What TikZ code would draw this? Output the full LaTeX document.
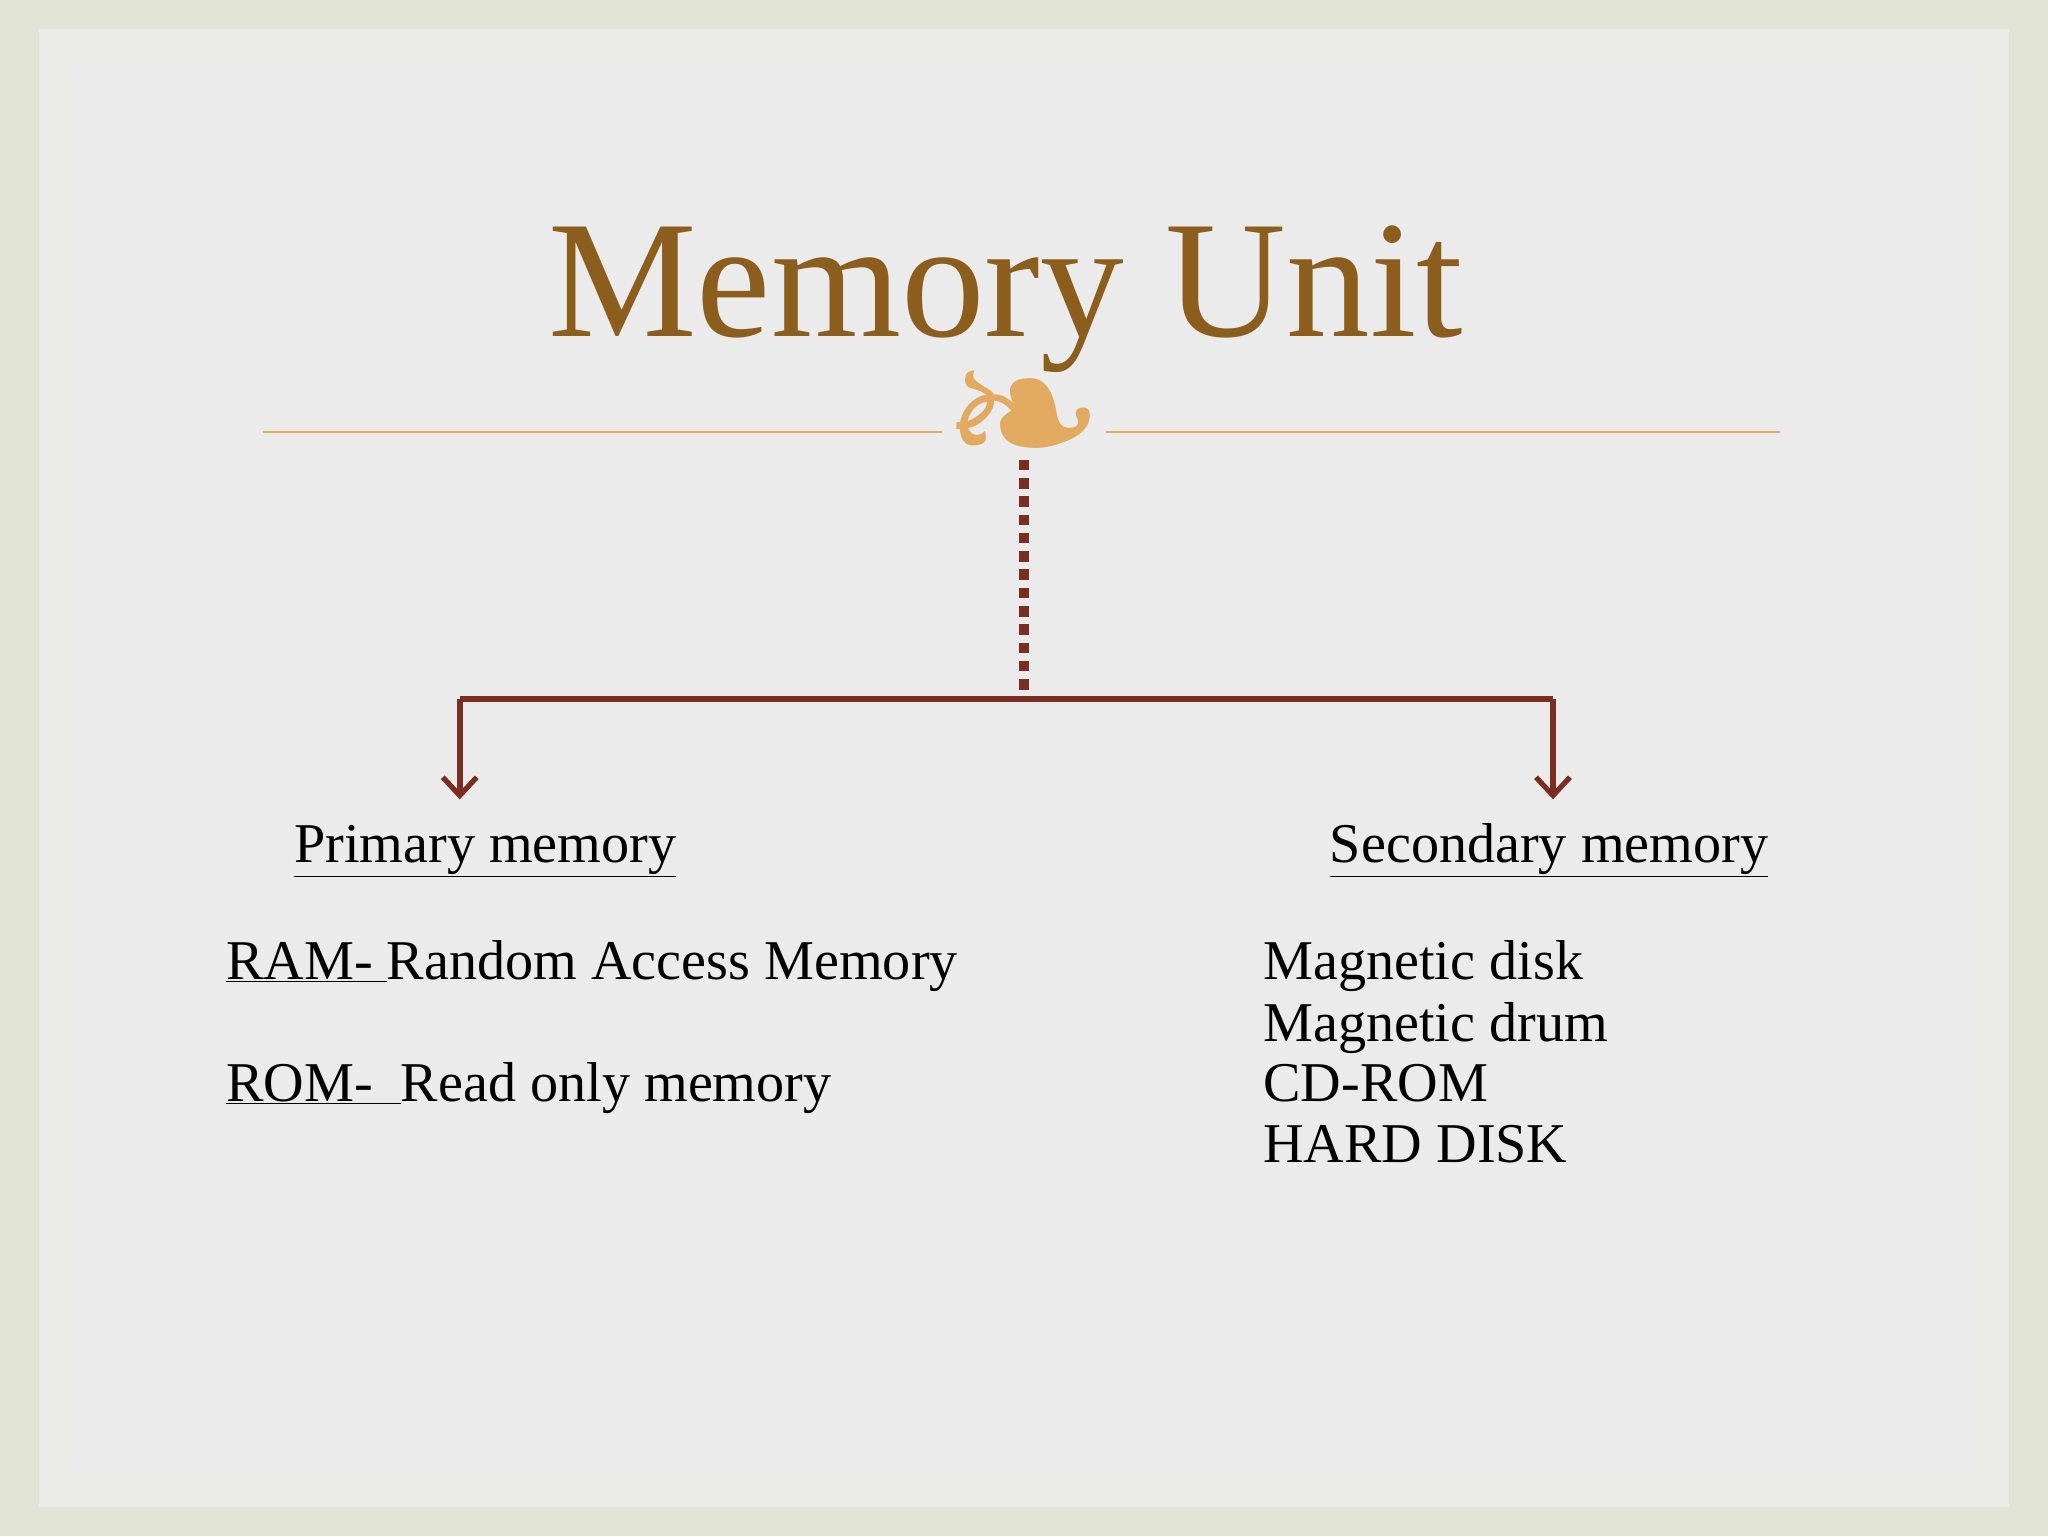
\documentclass[tikz,border=0pt]{standalone}
\usepackage{fontspec}
\setmainfont{Liberation Serif}
\newfontfamily\orn{DejaVu Sans}
\usetikzlibrary{arrows.meta}
\definecolor{bgout}{RGB}{226,228,214}
\definecolor{bgin}{RGB}{235,235,235}
\definecolor{titlec}{RGB}{139,94,30}
\definecolor{linec}{RGB}{226,170,96}
\definecolor{conn}{RGB}{122,46,34}
\tikzset{
  body/.style={anchor=base west,inner sep=0pt,font=\fontsize{43}{52}\selectfont,text=black},
  connline/.style={draw=conn,line width=4.5pt},
}
\begin{document}
\begin{tikzpicture}[x=1pt,y=-1pt]
\useasboundingbox (0,0) rectangle (1568,1176);
\fill[bgout] (0,0) rectangle (1568,1176);
\fill[bgin!97!bgout] (30,22) rectangle (1538,1154);
\fill[bgin] (55,45) rectangle (1513,1131);
\node[inner sep=0pt,anchor=base,font=\fontsize{128}{140}\selectfont,text=titlec] (title) at (770,258) {Memory Unit};
\node[inner sep=0pt,font=\orn\fontsize{150}{150}\selectfont,text=linec] (orn) at (784,326) {❧};
\coordinate (l1) at (201,331);
\coordinate (l2) at (1363,331);
\draw[linec,line width=1.5pt] (l1) -- (orn.west |- l1);
\draw[linec,line width=1.5pt] (orn.east |- l2) -- (l2);
\coordinate (top) at (784,352);
\coordinate (mid) at (784,535);
\coordinate (lc) at (352,535);
\coordinate (rc) at (1189,535);
\coordinate (la) at (352,612);
\coordinate (ra) at (1189,612);
\draw[connline,dash pattern=on 8pt off 6pt,line width=7pt] (top) -- (mid);
\draw[connline] (lc) -- (rc);
\draw[connline,-{Straight Barb[length=14pt,width=26pt,line width=4pt]}] (lc) -- (la);
\draw[connline,-{Straight Barb[length=14pt,width=26pt,line width=4pt]}] (rc) -- (ra);
\node[body] (prim) at (225,660) {\underline{Primary memory}};
\node[body] (sec) at (1018,660) {\underline{Secondary memory}};
\node[body] (ram) at (173,750) {\underline{RAM-\ }Random Access Memory};
\node[body] (rom) at (173,843) {\underline{ROM-\ \ }Read only memory};
\node[body] (s1) at (967,750) {Magnetic disk};
\node[body] (s2) at (967,797) {Magnetic drum};
\node[body] (s3) at (967,843) {CD-ROM};
\node[body] (s4) at (967,890) {HARD DISK};
\end{tikzpicture}
\end{document}
